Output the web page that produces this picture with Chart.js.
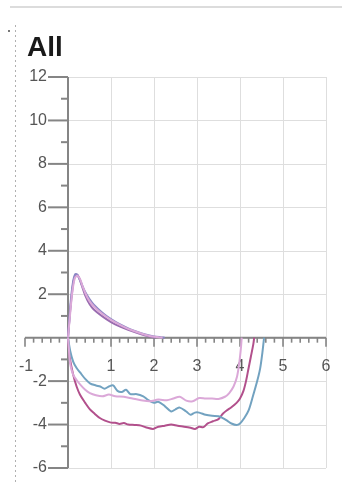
<!DOCTYPE html>
<html>
<head>
<meta charset="utf-8">
<script src="https://cdn.jsdelivr.net/npm/chart.js@4/dist/chart.umd.min.js"></script>
<style>
html,body{margin:0;padding:0;background:#fff;}
#wrap{position:relative;width:342px;height:484px;}
</style>
</head>
<body>
<div id="wrap"><canvas id="c" width="342" height="484"></canvas></div>
<script>
const titleText = "All";
const xTickLabels = [-1, 1, 2, 3, 4, 5, 6];
const yTickLabels = [12, 10, 8, 6, 4, 2, -2, -4, -6];

// Expiration (positive flow)
const blueTopX = [0,0.03,0.07,0.12,0.17,0.22,0.3,0.4,0.5,0.6,0.8,1.0,1.2,1.4,1.6,1.8,2.0,2.15,2.25];
const blueTopY = [0,0.8,1.8,2.6,2.93,2.88,2.55,2.1,1.78,1.52,1.15,0.85,0.62,0.43,0.28,0.15,0.06,0.02,0];
const magentaTopX = [0,0.04,0.09,0.14,0.2,0.25,0.32,0.4,0.5,0.6,0.8,1.0,1.2,1.4,1.6,1.8,1.95,2.05];
const magentaTopY = [0,1.0,2.0,2.7,2.9,2.8,2.4,1.95,1.55,1.3,0.98,0.72,0.52,0.36,0.22,0.1,0.03,0];
const pinkTopX = [0,0.05,0.1,0.16,0.22,0.28,0.35,0.45,0.55,0.7,0.9,1.1,1.3,1.5,1.7,1.9,2.1,2.2];
const pinkTopY = [0,1.1,2.1,2.75,2.85,2.7,2.3,1.85,1.55,1.25,0.95,0.7,0.5,0.33,0.19,0.08,0.02,0];

// Inspiration (negative flow)
const blueBotX = [0,0.05,0.12,0.2,0.28,0.4,0.51,0.65,0.75,0.85,0.95,1.05,1.15,1.25,1.35,1.45,1.6,1.75,1.85,2.0,2.1,2.25,2.4,2.5,2.6,2.75,2.85,2.95,3.05,3.2,3.35,3.5,3.6,3.7,3.8,3.92,4.0,4.1,4.2,4.3,4.4,4.47,4.52,4.56];
const blueBotY = [0,-0.6,-1.1,-1.4,-1.6,-1.9,-2.1,-2.2,-2.25,-2.35,-2.25,-2.2,-2.45,-2.5,-2.4,-2.6,-2.6,-2.7,-2.85,-3.0,-2.95,-3.15,-3.4,-3.3,-3.22,-3.4,-3.55,-3.45,-3.45,-3.55,-3.6,-3.62,-3.7,-3.82,-3.95,-4.02,-3.95,-3.7,-3.35,-2.7,-2.0,-1.4,-0.7,0];
const magentaBotX = [0,0.04,0.12,0.2,0.28,0.4,0.51,0.62,0.74,0.86,0.98,1.1,1.2,1.3,1.4,1.55,1.7,1.85,1.98,2.1,2.25,2.4,2.55,2.7,2.85,2.95,3.05,3.15,3.25,3.37,3.5,3.6,3.69,3.8,3.92,4.0,4.08,4.14,4.19,4.25,4.31,4.33];
const magentaBotY = [0,-0.9,-1.7,-2.25,-2.63,-3.0,-3.3,-3.5,-3.7,-3.82,-3.9,-3.92,-3.97,-3.93,-4.0,-4.02,-4.05,-4.15,-4.2,-4.1,-4.05,-4.0,-4.06,-4.1,-4.15,-4.2,-4.1,-4.12,-3.95,-3.85,-3.75,-3.5,-3.35,-3.2,-3.0,-2.8,-2.45,-2.0,-1.5,-0.9,-0.3,0];
const pinkBotX = [0,0.02,0.05,0.12,0.2,0.28,0.4,0.51,0.65,0.8,0.95,1.1,1.3,1.5,1.7,1.9,2.1,2.3,2.45,2.6,2.75,2.9,3.05,3.2,3.35,3.5,3.65,3.75,3.85,3.93,3.98,4.02,4.04];
const pinkBotY = [0,-0.5,-1.2,-1.7,-1.95,-2.15,-2.4,-2.55,-2.65,-2.7,-2.62,-2.7,-2.72,-2.8,-2.88,-2.93,-2.85,-2.88,-2.8,-2.72,-2.9,-2.93,-2.78,-2.8,-2.8,-2.82,-2.72,-2.55,-2.25,-1.8,-1.2,-0.5,0];

function pts(xs, ys){ return xs.map((x,i)=>({x:x, y:ys[i]})); }

const BLUE = '#72a2c0';
const MAGENTA = '#b2508c';
const PINK = '#dba8d8';

function ds(xs, ys, color){
  return {data: pts(xs, ys), borderColor: color, backgroundColor: color, borderWidth: 2,
          showLine: true, pointRadius: 0, tension: 0.3, fill: false};
}

const decor = {
  id: 'decor',
  beforeDatasetsDraw(chart){
    const ctx = chart.ctx, xs = chart.scales.x, ys = chart.scales.y;
    const X = v => xs.getPixelForValue(v), Y = v => ys.getPixelForValue(v);
    ctx.save();
    // top rule
    ctx.strokeStyle = '#dcdcdc'; ctx.lineWidth = 2;
    ctx.beginPath(); ctx.moveTo(10, 7); ctx.lineTo(342, 7); ctx.stroke();
    // dotted left line
    ctx.strokeStyle = '#b0b0b0'; ctx.lineWidth = 1; ctx.setLineDash([2,3]);
    ctx.beginPath(); ctx.moveTo(15.5, 25); ctx.lineTo(15.5, 484); ctx.stroke();
    ctx.setLineDash([]);
    ctx.fillStyle = '#777'; ctx.fillRect(8, 30, 2, 2);
    // title
    ctx.fillStyle = '#1a1a1a'; ctx.font = 'bold 28px "Liberation Sans", Arial, sans-serif';
    ctx.textAlign = 'left'; ctx.textBaseline = 'alphabetic';
    ctx.fillText(titleText, 27, 56);
    // grid
    ctx.strokeStyle = '#dedede'; ctx.lineWidth = 1;
    for (let v = 1; v <= 6; v++){
      const px = Math.round(X(v)) + 0.5;
      ctx.beginPath(); ctx.moveTo(px, Y(12)); ctx.lineTo(px, Y(-6)); ctx.stroke();
    }
    for (let v = -6; v <= 12; v += 2){
      const py = Math.round(Y(v)) + 0.5;
      ctx.beginPath(); ctx.moveTo(X(0), py); ctx.lineTo(X(6), py); ctx.stroke();
    }
    // axes
    ctx.strokeStyle = '#858585'; ctx.lineWidth = 2;
    const x0 = X(0), y0 = Y(0);
    ctx.beginPath(); ctx.moveTo(x0, Y(12)); ctx.lineTo(x0, Y(-6)); ctx.stroke();
    ctx.beginPath(); ctx.moveTo(X(-1), y0); ctx.lineTo(X(6), y0); ctx.stroke();
    // y ticks
    for (let v = -6; v <= 12; v++){
      if (v === 0) continue;
      const py = Y(v);
      const len = (v % 2 === 0) ? 20 : 7;
      ctx.beginPath(); ctx.moveTo(x0 - len, py); ctx.lineTo(x0, py); ctx.stroke();
    }
    // x ticks
    ctx.lineWidth = 1.6;
    for (let i = -5; i <= 30; i++){
      const v = i / 5;
      const px = X(v);
      const len = (i % 5 === 0) ? 9 : 5;
      ctx.beginPath(); ctx.moveTo(px, y0); ctx.lineTo(px, y0 + len); ctx.stroke();
    }
    // labels
    ctx.fillStyle = '#555'; ctx.font = '16px "Liberation Sans", Arial, sans-serif';
    ctx.textBaseline = 'middle';
    ctx.textAlign = 'right';
    yTickLabels.forEach(v => ctx.fillText(String(v), 47, Y(v)));
    ctx.textAlign = 'center';
    xTickLabels.forEach(v => ctx.fillText(String(v), X(v) + (v < 0 ? 1 : 0), y0 + 29));
    ctx.restore();
  }
};

new Chart(document.getElementById('c'), {
  type: 'scatter',
  data: {
    datasets: [
      ds(pinkBotX, pinkBotY, PINK),
      ds(blueBotX, blueBotY, BLUE),
      ds(magentaBotX, magentaBotY, MAGENTA),
      ds(pinkTopX, pinkTopY, PINK),
      ds(blueTopX, blueTopY, '#8a86c4'),
      ds(magentaTopX, magentaTopY, '#9a6cb0')
    ]
  },
  options: {
    responsive: false,
    animation: false,
    layout: {padding: {left: 25, right: 16, top: 77, bottom: 16}},
    plugins: {legend: {display: false}, tooltip: {enabled: false}, title: {display: false}},
    scales: {
      x: {type: 'linear', min: -1, max: 6, display: false},
      y: {type: 'linear', min: -6, max: 12, display: false}
    }
  },
  plugins: [decor]
});
</script>
</body>
</html>
